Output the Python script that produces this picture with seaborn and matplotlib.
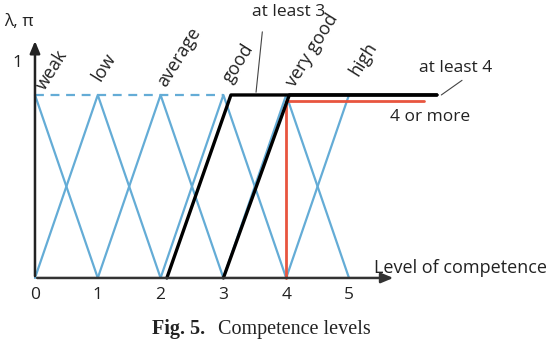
import matplotlib
matplotlib.use("Agg")
import matplotlib.pyplot as plt
import seaborn as sns
import pandas as pd

sns.set_theme(style="white")
plt.rcParams['font.family'] = ['Open Sans', 'DejaVu Sans']

# ---- data ----
levels = [0, 1, 2, 3, 4, 5]
categories = ["weak", "low", "average", "good", "very good", "high"]
cat_x = [0.16, 1.05, 2.08, 3.13, 4.13, 5.15]
cat_y = [1.02, 1.07, 1.04, 1.06, 1.04, 1.1]

blue_sets = {
    "weak": ([0, 1], [1, 0]),
    "low": ([0, 1, 2], [0, 1, 0]),
    "average": ([1, 2, 3], [0, 1, 0]),
    "good": ([2, 3, 4], [0, 1, 0]),
    "very good": ([3, 4, 5], [0, 1, 0]),
    "high": ([4, 5, 6], [0, 1, 1]),
}
dashed_x = [0, 3]
dashed_y = [1, 1]
atleast3_x = [2.1, 3.12, 6.4]
atleast3_y = [0, 1, 1]
atleast4_x = [3.0, 4.05, 6.4]
atleast4_y = [0, 1, 1]
ormore_x = [4, 4, 6.2]
ormore_y = [0, 0.965, 0.965]

BLUE = "#64acd6"
RED = "#e8553f"
TXT = "#222222"

fig = plt.figure(figsize=(5.47, 3.42), dpi=100)
ax = fig.add_axes([0, 0, 1, 1])
ax.set_xlim(-0.557, 8.153)
ax.set_ylim(-0.35, 1.519)
ax.axis("off")

# axes arrows
ax.annotate("", xy=(0, 1.31), xytext=(0, -0.005),
            arrowprops=dict(arrowstyle="-|>,head_length=0.6,head_width=0.25", color="#222222", lw=1.8))
ax.annotate("", xy=(5.75, 0), xytext=(-0.01, 0),
            arrowprops=dict(arrowstyle="-|>,head_length=0.6,head_width=0.25", color="#333333", lw=1.8))

rows = []
for name, (xs, ys) in blue_sets.items():
    for i, (xv, yv) in enumerate(zip(xs, ys)):
        rows.append({"set": name, "x": xv, "y": yv, "o": i})
df_blue = pd.DataFrame(rows)
sns.lineplot(data=df_blue, x="x", y="y", units="set", estimator=None, sort=False,
             color=BLUE, lw=1.6, ax=ax, legend=False)
ax.plot(dashed_x, dashed_y, color=BLUE, lw=1.6, ls=(0, (4, 3)))

sns.lineplot(x=ormore_x, y=ormore_y, sort=False, estimator=None, color=RED, lw=2.0, ax=ax)
sns.lineplot(x=atleast3_x, y=atleast3_y, sort=False, estimator=None, color="black", lw=2.4, ax=ax)
sns.lineplot(x=atleast4_x, y=atleast4_y, sort=False, estimator=None, color="black", lw=2.4, ax=ax)

fs = 12.5
for c, xv, yv in zip(categories, cat_x, cat_y):
    ax.text(xv, yv, c, rotation=58, rotation_mode="anchor", ha="left", va="baseline",
            fontsize=13, color=TXT)

for lv in levels:
    ax.text(lv, -0.095, str(lv), ha="center", va="center", fontsize=fs, color=TXT)

ax.text(-0.28, 1.175, "1", ha="center", va="center", fontsize=fs, color=TXT)
ax.text(-0.25, 1.40, "λ, π", ha="center", va="center", fontsize=fs, color=TXT)
ax.text(5.4, 0.055, "Level of competence", ha="left", va="center", fontsize=13, color=TXT)

ax.text(3.46, 1.453, "at least 3", ha="left", va="center", fontsize=fs, color=TXT)
ax.plot([3.62, 3.52], [1.345, 1.015], color="#444444", lw=0.8)
ax.text(6.12, 1.148, "at least 4", ha="left", va="center", fontsize=fs, color=TXT)
ax.plot([6.8, 6.47], [1.08, 1.0], color="#444444", lw=0.8)
ax.text(5.65, 0.88, "4 or more", ha="left", va="center", fontsize=fs, color=TXT)

ax.text(2.71, -0.335, "Fig. 5.", ha="right", va="bottom", fontsize=14.5, fontweight="bold",
        color=TXT, family="Liberation Serif")
ax.text(2.91, -0.335, "Competence levels", ha="left", va="bottom", fontsize=14.5, color=TXT,
        family="Liberation Serif")

fig.savefig("out.png", dpi=100)
